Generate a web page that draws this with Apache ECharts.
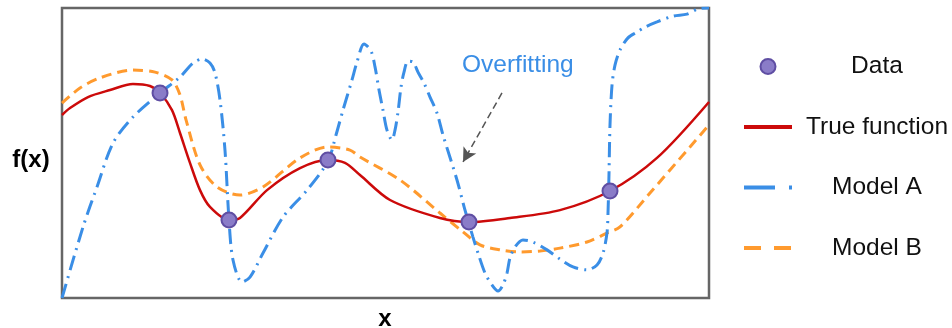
<!DOCTYPE html>
<html><head><meta charset="utf-8">
<script src="https://cdn.jsdelivr.net/npm/echarts@6/dist/echarts.min.js"></script>
<style>html,body{margin:0;padding:0;background:#fff}#c{width:952px;height:328px}</style>
</head><body><div id="c"></div>
<script>
// ---- data (x: 0..10, f(x): 0..10) ----
const legendNames = ['Data', 'True function', 'Model A', 'Model B'];

const dataX = [1.515, 2.581, 4.111, 6.290, 8.470];
const dataY = [7.07, 2.69, 4.76, 2.62, 3.69];

const trueX = [0.000, 0.124, 0.402, 0.742, 1.097, 1.360, 1.515, 1.700, 1.824, 1.978, 2.133, 2.287, 2.581, 2.751, 3.169, 3.679, 4.111, 4.374, 4.606, 5.070, 5.842, 6.290, 6.924, 7.697, 8.470, 9.196, 10.000];
const trueY = [6.31, 6.55, 6.93, 7.17, 7.38, 7.31, 7.07, 6.48, 5.69, 4.66, 3.72, 3.14, 2.69, 2.76, 3.72, 4.48, 4.76, 4.66, 4.24, 3.38, 2.76, 2.62, 2.76, 3.03, 3.69, 4.83, 6.76];

const modelAX = [0.000, 0.325, 0.541, 0.788, 1.097, 1.515, 1.824, 2.025, 2.164, 2.287, 2.365, 2.442, 2.519, 2.581, 2.643, 2.782, 2.906, 3.107, 3.416, 3.787, 4.111, 4.235, 4.343, 4.482, 4.560, 4.668, 4.776, 4.838, 4.900, 4.961, 5.023, 5.100, 5.147, 5.193, 5.240, 5.286, 5.348, 5.425, 5.502, 5.595, 5.688, 5.796, 5.889, 6.105, 6.229, 6.352, 6.430, 6.538, 6.646, 6.739, 6.816, 6.878, 6.924, 7.002, 7.125, 7.280, 7.496, 7.697, 7.898, 8.114, 8.269, 8.362, 8.423, 8.439, 8.454, 8.470, 8.501, 8.547, 8.624, 8.748, 8.887, 9.011, 9.196, 9.444, 9.660, 9.830, 10.000];
const modelAY = [0.00, 2.45, 3.83, 5.34, 6.24, 7.07, 7.62, 8.10, 8.24, 8.10, 7.76, 6.83, 5.10, 2.69, 1.31, 0.55, 0.72, 1.55, 2.79, 3.72, 4.72, 5.62, 6.48, 7.52, 8.14, 8.76, 8.52, 7.97, 7.17, 6.48, 5.79, 5.45, 5.79, 6.41, 7.28, 7.79, 8.17, 8.14, 7.79, 7.41, 6.93, 6.38, 5.62, 4.07, 3.03, 2.10, 1.55, 0.86, 0.45, 0.24, 0.45, 0.86, 1.38, 1.76, 2.00, 1.93, 1.66, 1.34, 1.07, 0.97, 1.14, 1.55, 2.24, 2.93, 4.24, 5.97, 7.34, 8.03, 8.55, 8.97, 9.17, 9.34, 9.52, 9.72, 9.79, 9.97, 10.00];

const modelBX = [0.000, 0.278, 0.587, 1.097, 1.437, 1.700, 1.824, 1.917, 2.133, 2.396, 2.751, 3.107, 3.679, 4.111, 4.451, 4.606, 5.224, 5.842, 6.198, 6.461, 6.770, 7.079, 7.388, 7.697, 8.114, 8.423, 8.624, 9.088, 9.706, 10.000];
const modelBY = [6.72, 7.24, 7.59, 7.86, 7.79, 7.52, 7.00, 6.14, 4.59, 3.83, 3.55, 3.83, 4.83, 5.21, 5.10, 4.86, 4.07, 2.93, 2.28, 1.83, 1.66, 1.59, 1.62, 1.72, 1.93, 2.24, 2.45, 3.62, 5.21, 5.97];

const arrowFrom = [6.80, 7.07];
const arrowTo = [6.198, 4.69];
const annotationText = 'Overfitting';
const xAxisLabel = 'x';
const yAxisLabel = 'f(x)';

// ---- chart ----
const FONT = '"Liberation Sans", Arial, Helvetica, sans-serif';
const zip = (xs, ys) => xs.map((x, i) => [x, ys[i]]);
const RED = '#cc0a0a', BLUE = '#3a8ee6', ORANGE = '#ff9a2e';
const SMOOTH = 0.3;

const chart = echarts.init(document.getElementById('c'), null, {renderer: 'canvas'});
chart.setOption({
  animation: false,
  backgroundColor: '#fff',
  grid: {left: 62, right: 243, top: 8, bottom: 30, show: true, borderColor: '#666', borderWidth: 2.5, backgroundColor: 'transparent'},
  xAxis: {type: 'value', min: 0, max: 10, show: false},
  yAxis: {type: 'value', min: 0, max: 10, show: false},
  legend: {
    orient: 'vertical', left: 742, top: 54, padding: 0, itemGap: 35.5,
    itemWidth: 48, itemHeight: 15, selectedMode: false,
    formatter: n => '{t|' + n + '}',
    textStyle: {color: '#111', fontSize: 24, fontFamily: FONT,
      rich: {t: {width: 160, align: 'center', fontSize: 24.5, lineHeight: 24, fontFamily: FONT, color: '#111'}}},
    data: [
      {name: legendNames[0], icon: 'circle'},
      {name: legendNames[1], lineStyle: {width: 4}, itemStyle: {opacity: 0}},
      {name: legendNames[2], lineStyle: {width: 4, type: [31, 14, 3, 20]}, itemStyle: {opacity: 0}},
      {name: legendNames[3], lineStyle: {width: 4, type: [17, 13]}, itemStyle: {opacity: 0}}
    ]
  },
  series: [
    {name: legendNames[3], type: 'line', data: zip(modelBX, modelBY), symbol: 'none', smooth: SMOOTH,
      lineStyle: {color: ORANGE, width: 3, type: [10, 6]}, itemStyle: {color: ORANGE}, z: 2},
    {name: legendNames[1], type: 'line', data: zip(trueX, trueY), symbol: 'none', smooth: SMOOTH,
      lineStyle: {color: RED, width: 2.5}, itemStyle: {color: RED}, z: 3},
    {name: legendNames[2], type: 'line', data: zip(modelAX, modelAY), symbol: 'none', smooth: SMOOTH,
      lineStyle: {color: BLUE, width: 3, type: [15, 6, 2, 6]}, itemStyle: {color: BLUE}, z: 4,
      markLine: {silent: true, symbol: ['none', 'arrow'], symbolSize: [11, 14], label: {show: false},
        lineStyle: {color: '#555', width: 1.5, type: [7, 4]}, emphasis: {disabled: true},
        data: [[{coord: arrowFrom}, {coord: arrowTo}]]}},
    {name: legendNames[0], type: 'scatter', data: zip(dataX, dataY), symbol: 'circle', symbolSize: 15,
      itemStyle: {color: '#8a7cc8', borderColor: '#5f4ea3', borderWidth: 2, opacity: 1}, z: 10}
  ],
  graphic: [
    {type: 'text', x: 31, y: 160, style: {text: yAxisLabel, font: 'bold 24px ' + FONT, fill: '#000', align: 'center', verticalAlign: 'middle'}},
    {type: 'text', x: 385, y: 319, style: {text: xAxisLabel, font: 'bold 24px ' + FONT, fill: '#000', align: 'center', verticalAlign: 'middle'}},
    {type: 'text', x: 462, y: 65, style: {text: annotationText, font: '24.5px ' + FONT, fill: BLUE, align: 'left', verticalAlign: 'middle'}}
  ]
});
</script></body></html>
